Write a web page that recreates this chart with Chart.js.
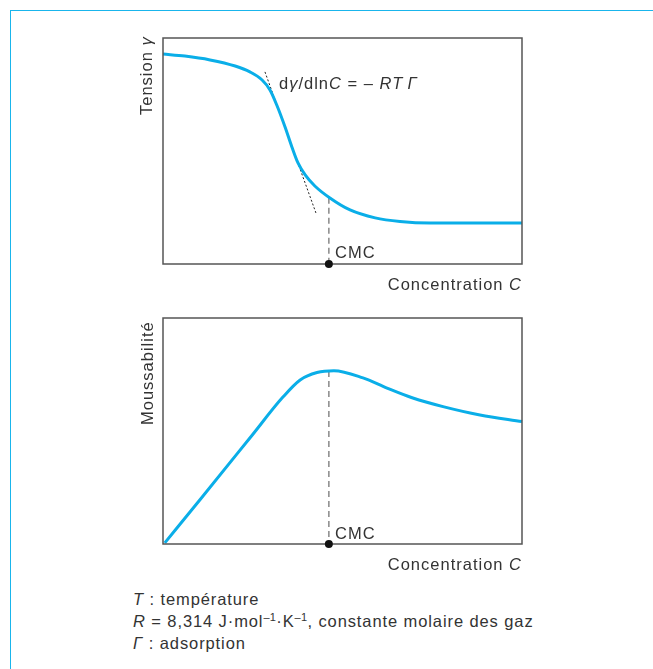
<!DOCTYPE html>
<html>
<head>
<meta charset="utf-8">
<script src="https://cdn.jsdelivr.net/npm/chart.js@4/dist/chart.umd.min.js"></script>
<style>
  body { margin: 0; background: #fff; width: 653px; height: 669px; overflow: hidden; position: relative;
         font-family: "Liberation Sans", Arial, sans-serif; }
  #frame { position: absolute; left: 10px; top: 10px; right: 0; bottom: 0;
           border-top: 1px solid #19b5ec; border-left: 1px solid #19b5ec; }
  .wrap { position: absolute; left: 0; width: 653px; }
  #notes { position: absolute; left: 133px; top: 588px; font-size: 16.5px; line-height: 22px;
           color: #333; letter-spacing: 0.9px; white-space: nowrap; }
  #notes sup { font-size: 11px; line-height: 0; vertical-align: 6px; letter-spacing: 0.3px; }
</style>
</head>
<body>
<div id="frame"></div>
<div class="wrap" style="top:0;height:300px"><canvas id="tensionChart"></canvas></div>
<div class="wrap" style="top:300px;height:280px"><canvas id="moussChart"></canvas></div>
<div id="notes">
  <div><i>T</i> : température</div>
  <div><i>R</i> = 8,314 J·mol<sup>–1</sup>·K<sup>–1</sup>, constante molaire des gaz</div>
  <div><i>Γ</i> : adsorption</div>
</div>

<script>
// Values (x and y on a 0-100 scale)
const tensionX = [0, 6.1, 13.1, 20.1, 24.2, 27.6, 29.8, 31.8, 34.0, 35.9, 37.6, 39.6, 42.3, 46.5, 52.1, 59.1, 66.0, 74.4, 100];
const tensionY = [92.9, 92.0, 90.3, 87.6, 85.0, 81.4, 77.0, 69.9, 60.6, 51.8, 44.7, 39.4, 34.5, 29.2, 23.9, 20.4, 18.8, 18.1, 18.1];
const tangentX = [28.4, 42.6];
const tangentY = [85.0, 22.6];
const moussX = [0.5, 10.3, 24.2, 33.4, 38.2, 42.9, 47.6, 55.7, 62.4, 69.6, 78.0, 88.3, 100];
const moussY = [0.5, 19.6, 46.9, 65.0, 72.6, 75.9, 76.7, 73.5, 69.0, 64.6, 60.8, 57.1, 54.2];
const cmcX = 46.2;
const cmcTensionY = 29.3;
const cmcMoussY = 76.5;

const CYAN = '#0aaee8';
const TEXT = '#333';
const FONT = '"Liberation Sans", Arial, sans-serif';

function pts(xs, ys) {
  return xs.map((x, i) => ({ x: x, y: ys[i] }));
}

// draw a line of text made of upright / italic pieces
function drawRuns(ctx, runs, x, y, align) {
  ctx.letterSpacing = '1px';
  const fonts = runs.map(r => (r[1] ? 'italic ' : '') + '16.5px ' + FONT);
  const widths = runs.map((r, i) => { ctx.font = fonts[i]; return ctx.measureText(r[0]).width; });
  const total = widths.reduce((a, b) => a + b, 0);
  let cx = align === 'right' ? x - total : x;
  ctx.textAlign = 'left';
  runs.forEach((r, i) => {
    ctx.font = fonts[i];
    ctx.fillText(r[0], cx, y);
    cx += widths[i];
  });
}

function boxAndLabels(labels) {
  return {
    id: 'boxAndLabels',
    afterDraw(chart) {
      const ctx = chart.ctx;
      const a = chart.chartArea;
      ctx.save();
      ctx.strokeStyle = '#555';
      ctx.lineWidth = 1.5;
      ctx.strokeRect(a.left, a.top, a.right - a.left, a.bottom - a.top);
      ctx.fillStyle = TEXT;
      ctx.textBaseline = 'alphabetic';
      labels.flat.forEach(l => drawRuns(ctx, l.runs, l.x, l.y, l.align));
      ctx.translate(labels.yTitle.x, labels.yTitle.y);
      ctx.rotate(-Math.PI / 2);
      ctx.textBaseline = 'middle';
      drawRuns(ctx, labels.yTitle.runs, 0, 0, 'left');
      ctx.restore();

      // CMC dot on the axis, drawn over the box edge
      const xs = chart.scales.x, ys = chart.scales.y;
      ctx.save();
      ctx.fillStyle = '#111';
      ctx.beginPath();
      ctx.arc(xs.getPixelForValue(cmcX), ys.getPixelForValue(0), 4, 0, Math.PI * 2);
      ctx.fill();
      ctx.restore();
    }
  };
}

function makeChart(id, curve, extra, padding, labels) {
  const datasets = [
    { data: curve, borderColor: CYAN, borderWidth: 3, pointRadius: 0, cubicInterpolationMode: 'monotone', clip: false }
  ].concat(extra);
  return new Chart(document.getElementById(id), {
    type: 'line',
    data: { datasets: datasets },
    options: {
      responsive: true,
      maintainAspectRatio: false,
      animation: false,
      layout: { padding: padding },
      plugins: { legend: { display: false }, tooltip: { enabled: false } },
      scales: {
        x: { type: 'linear', min: 0, max: 100, display: false },
        y: { type: 'linear', min: 0, max: 100, display: false }
      }
    },
    plugins: [boxAndLabels(labels)]
  });
}

const cmcLine = (yTop) => ({
  data: [{ x: cmcX, y: yTop }, { x: cmcX, y: 0 }],
  borderColor: '#888', borderWidth: 1.5, borderDash: [6, 4], pointRadius: 0, clip: false
});

makeChart('tensionChart',
  pts(tensionX, tensionY),
  [
    cmcLine(cmcTensionY),
    { data: pts(tangentX, tangentY), borderColor: '#222', borderWidth: 1, borderDash: [2, 2], pointRadius: 0 }
  ],
  { left: 163, right: 131, top: 38, bottom: 36 },
  {
    flat: [
      { runs: [['Concentration ', false], ['C', true]], x: 522, y: 290, align: 'right' },
      { runs: [['CMC', false]], x: 335, y: 258, align: 'left' },
      { runs: [['d', false], ['γ', true], ['/dln', false], ['C', true], [' = – ', false], ['RT\u2009Γ', true]], x: 279, y: 89, align: 'left' }
    ],
    yTitle: { runs: [['Tension ', false], ['γ', true]], x: 147, y: 115 }
  }
);

makeChart('moussChart',
  pts(moussX, moussY),
  [cmcLine(cmcMoussY)],
  { left: 163, right: 131, top: 18, bottom: 36 },
  {
    flat: [
      { runs: [['Concentration ', false], ['C', true]], x: 522, y: 270, align: 'right' },
      { runs: [['CMC', false]], x: 335, y: 239, align: 'left' }
    ],
    yTitle: { runs: [['Moussabilité', false]], x: 148, y: 125 }
  }
);
</script>
</body>
</html>
